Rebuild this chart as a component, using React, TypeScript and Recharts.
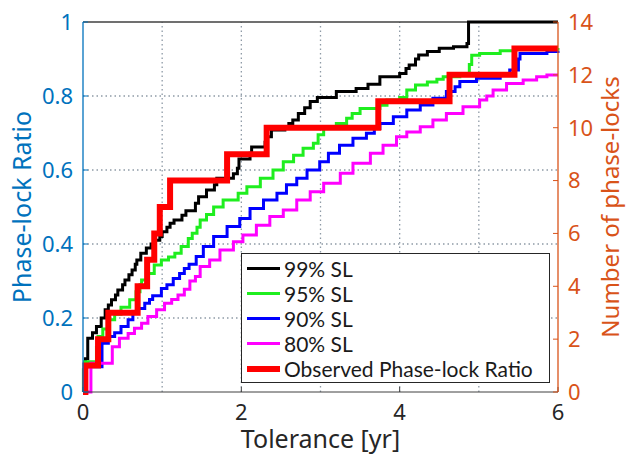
import { LineChart, Line, XAxis, YAxis, ReferenceLine, Legend } from 'recharts';

// [tolerance in yr, phase-lock ratio]
const sl99: [number, number][] = [
  [0, 0.075], [0.03, 0.09], [0.06, 0.145], [0.12, 0.16], [0.17, 0.177], [0.23, 0.2], [0.28, 0.222],
  [0.32, 0.235], [0.36, 0.249], [0.41, 0.262], [0.44, 0.276], [0.5, 0.29], [0.53, 0.303], [0.58, 0.317],
  [0.62, 0.33], [0.66, 0.345], [0.68, 0.357], [0.73, 0.375], [0.8, 0.389], [0.86, 0.4], [0.9, 0.41],
  [0.97, 0.42], [1.0, 0.433], [1.06, 0.445], [1.1, 0.456], [1.15, 0.465], [1.25, 0.478], [1.3, 0.49],
  [1.42, 0.51], [1.46, 0.528], [1.56, 0.546], [1.66, 0.56], [1.69, 0.578], [1.9, 0.59], [1.95, 0.605],
  [1.97, 0.63], [2.11, 0.645], [2.13, 0.662], [2.3, 0.675], [2.33, 0.69], [2.38, 0.708], [2.55, 0.717],
  [2.6, 0.726], [2.65, 0.735], [2.72, 0.753], [2.8, 0.768], [2.87, 0.785], [2.96, 0.796], [3.2, 0.812],
  [3.45, 0.82], [3.6, 0.832], [3.75, 0.852], [4.0, 0.861], [4.08, 0.874], [4.12, 0.884], [4.2, 0.9],
  [4.24, 0.911], [4.35, 0.92], [4.5, 0.929], [4.68, 0.933], [4.85, 0.942], [4.87, 1.0], [6, 1.0],
];

const sl95: [number, number][] = [
  [0, 0], [0.005, 0.06], [0.02, 0.082], [0.17, 0.12], [0.19, 0.15], [0.25, 0.17], [0.32, 0.195],
  [0.4, 0.21], [0.48, 0.229], [0.59, 0.249], [0.67, 0.271], [0.72, 0.29], [0.74, 0.303], [0.82, 0.32],
  [0.9, 0.343], [0.99, 0.357], [1.08, 0.365], [1.16, 0.375], [1.24, 0.393], [1.33, 0.415], [1.38, 0.429],
  [1.44, 0.445], [1.48, 0.465], [1.56, 0.48], [1.65, 0.5], [1.77, 0.519], [1.96, 0.537], [2.07, 0.555],
  [2.24, 0.578], [2.4, 0.6], [2.53, 0.622], [2.66, 0.64], [2.78, 0.659], [2.91, 0.672], [2.97, 0.695],
  [3.04, 0.717], [3.2, 0.726], [3.33, 0.74], [3.4, 0.753], [3.5, 0.766], [3.75, 0.775], [3.84, 0.789],
  [4.0, 0.796], [4.09, 0.816], [4.2, 0.83], [4.35, 0.838], [4.47, 0.845], [4.55, 0.852], [4.76, 0.861],
  [4.88, 0.885], [4.91, 0.91], [5.01, 0.915], [5.27, 0.922], [5.44, 0.927], [6, 0.93],
];

const sl90: [number, number][] = [
  [0, 0], [0.02, 0.068], [0.24, 0.132], [0.32, 0.15], [0.4, 0.16], [0.48, 0.177], [0.57, 0.195],
  [0.63, 0.213], [0.69, 0.226], [0.78, 0.24], [0.84, 0.25], [0.88, 0.26], [0.99, 0.28], [1.06, 0.29],
  [1.14, 0.307], [1.22, 0.32], [1.28, 0.334], [1.34, 0.345], [1.43, 0.366], [1.52, 0.393], [1.65, 0.42],
  [1.82, 0.447], [1.98, 0.469], [2.11, 0.496], [2.28, 0.519], [2.45, 0.537], [2.57, 0.56], [2.7, 0.578],
  [2.83, 0.6], [2.99, 0.622], [3.1, 0.645], [3.24, 0.667], [3.41, 0.686], [3.58, 0.699], [3.68, 0.712],
  [3.75, 0.726], [3.92, 0.744], [4.09, 0.762], [4.26, 0.776], [4.42, 0.794], [4.59, 0.812], [4.7, 0.825],
  [4.76, 0.839], [4.97, 0.848], [5.27, 0.861], [5.39, 0.87], [5.5, 0.9], [5.52, 0.915], [5.86, 0.92],
  [6, 0.922],
];

const sl80: [number, number][] = [
  [0, 0], [0.1, 0.078], [0.37, 0.122], [0.46, 0.145], [0.57, 0.158], [0.65, 0.172], [0.74, 0.186],
  [0.82, 0.204], [0.93, 0.222], [1.03, 0.24], [1.12, 0.25], [1.2, 0.262], [1.28, 0.278], [1.35, 0.3],
  [1.42, 0.312], [1.48, 0.339], [1.6, 0.357], [1.73, 0.384], [1.9, 0.406], [2.02, 0.424], [2.19, 0.451],
  [2.36, 0.474], [2.53, 0.492], [2.7, 0.519], [2.87, 0.541], [3.04, 0.564], [3.25, 0.591], [3.41, 0.618],
  [3.63, 0.645], [3.79, 0.667], [3.96, 0.69], [4.09, 0.703], [4.26, 0.717], [4.42, 0.735], [4.59, 0.753],
  [4.8, 0.771], [5.01, 0.789], [5.1, 0.8], [5.18, 0.816], [5.35, 0.834], [5.56, 0.843], [5.73, 0.852],
  [5.86, 0.857], [6, 0.857],
];

// [tolerance in yr, number of phase-locks]
const observed: [number, number][] = [
  [0, 0], [0.03, 1], [0.19, 2], [0.32, 3], [0.69, 4], [0.81, 5], [0.9, 6], [0.97, 7], [1.1, 8],
  [1.82, 9], [2.32, 10], [3.73, 11], [4.63, 12], [5.45, 13], [6, 13],
];

const seriesNames = ['99% SL', '95% SL', '90% SL', '80% SL', 'Observed Phase-lock Ratio'];
const xTicks = [0, 2, 4, 6];
const xGrid = [1, 2, 3, 4, 5];
const ratioTicks = [0, 0.2, 0.4, 0.6, 0.8, 1];
const ratioGrid = [0.2, 0.4, 0.6, 0.8];
const countTicks = [0, 2, 4, 6, 8, 10, 12, 14];

const toPoints = (arr: [number, number][]) => arr.map(([t, v]) => ({ t, v }));

const BLUE = '#0072BD';
const ORANGE = '#D95319';
const FONT = '"Noto Sans", sans-serif';
const GRID = { stroke: '#8e9aa6', strokeDasharray: '1.5 3', strokeWidth: 1.3 };

const renderLegend = (props: any) => {
  const payload = [...(props.payload ?? [])].sort(
    (a: any, b: any) => seriesNames.indexOf(a.value) - seriesNames.indexOf(b.value)
  );
  return (
    <div style={{ border: '1px solid #262626', background: '#fff', width: 309, height: 130, paddingTop: 2, boxSizing: 'border-box' }}>
      {payload.map((entry: any) => (
        <div key={entry.value} style={{ display: 'flex', alignItems: 'center', height: 25 }}>
          <div style={{ width: 33, height: entry.payload?.strokeWidth ?? 3, background: entry.color, marginLeft: 5, marginRight: 4 }} />
          <span style={{ fontFamily: 'Lato, sans-serif', fontSize: 21, color: '#1a1a1a', lineHeight: '25px' }}>{entry.value}</span>
        </div>
      ))}
    </div>
  );
};

export default function App() {
  return (
    <div style={{ position: 'absolute', left: 0, top: 0, width: 627, height: 456, background: '#fff' }}>
      <LineChart width={627} height={456} margin={{ top: 22, right: 0, bottom: 0, left: 0 }} style={{ fontFamily: FONT }}>
        <XAxis
          dataKey="t"
          type="number"
          domain={[0, 6]}
          ticks={xTicks}
          interval={0}
          height={64}
          tickSize={-5}
          tickMargin={17}
          axisLine={{ stroke: '#404040' }}
          tickLine={{ stroke: '#404040' }}
          tick={{ fontSize: 22, fill: '#262626' }}
          label={{ value: 'Tolerance [yr]', position: 'center', dy: 15, style: { fontSize: 25, fill: '#262626' } }}
        />
        <YAxis
          yAxisId="left"
          domain={[0, 1]}
          ticks={ratioTicks}
          interval={0}
          width={83}
          tickSize={-5}
          tickMargin={15}
          axisLine={{ stroke: BLUE, strokeWidth: 1.3 }}
          tickLine={{ stroke: BLUE }}
          tick={{ fontSize: 22, fill: BLUE }}
          label={{ value: 'Phase-lock Ratio', angle: -90, position: 'center', dx: -19, style: { fontSize: 25, fill: BLUE } }}
        />
        <YAxis
          yAxisId="right"
          orientation="right"
          domain={[0, 14]}
          ticks={countTicks}
          interval={0}
          width={69}
          tickSize={-5}
          tickMargin={15}
          axisLine={{ stroke: ORANGE, strokeWidth: 1.3 }}
          tickLine={{ stroke: ORANGE }}
          tick={{ fontSize: 22, fill: ORANGE }}
          label={{ value: 'Number of phase-locks', angle: -90, position: 'center', dx: 18, style: { fontSize: 24, fill: ORANGE } }}
        />
        {xGrid.map((v) => (
          <ReferenceLine key={`gx${v}`} yAxisId="left" x={v} {...GRID} />
        ))}
        {ratioGrid.map((v) => (
          <ReferenceLine key={`gy${v}`} yAxisId="left" y={v} {...GRID} />
        ))}
        <ReferenceLine yAxisId="left" y={1} stroke="#404040" strokeWidth={1.3} />
        <Line yAxisId="left" data={toPoints(sl99)} dataKey="v" name={seriesNames[0]} type="stepAfter" stroke="#000000" strokeWidth={3} dot={false} isAnimationActive={false} />
        <Line yAxisId="left" data={toPoints(sl95)} dataKey="v" name={seriesNames[1]} type="stepAfter" stroke="#1fee1f" strokeWidth={3} dot={false} isAnimationActive={false} />
        <Line yAxisId="left" data={toPoints(sl90)} dataKey="v" name={seriesNames[2]} type="stepAfter" stroke="#0000ff" strokeWidth={3} dot={false} isAnimationActive={false} />
        <Line yAxisId="left" data={toPoints(sl80)} dataKey="v" name={seriesNames[3]} type="stepAfter" stroke="#ff00ff" strokeWidth={3} dot={false} isAnimationActive={false} />
        <Line yAxisId="right" data={toPoints(observed)} dataKey="v" name={seriesNames[4]} type="stepAfter" stroke="#ff0000" strokeWidth={6} dot={false} isAnimationActive={false} />
        <Legend
          layout="vertical"
          align="center"
          verticalAlign="middle"
          content={renderLegend}
          wrapperStyle={{ position: 'absolute', left: 241, top: 253, width: 309, height: 130 }}
        />
      </LineChart>
    </div>
  );
}
